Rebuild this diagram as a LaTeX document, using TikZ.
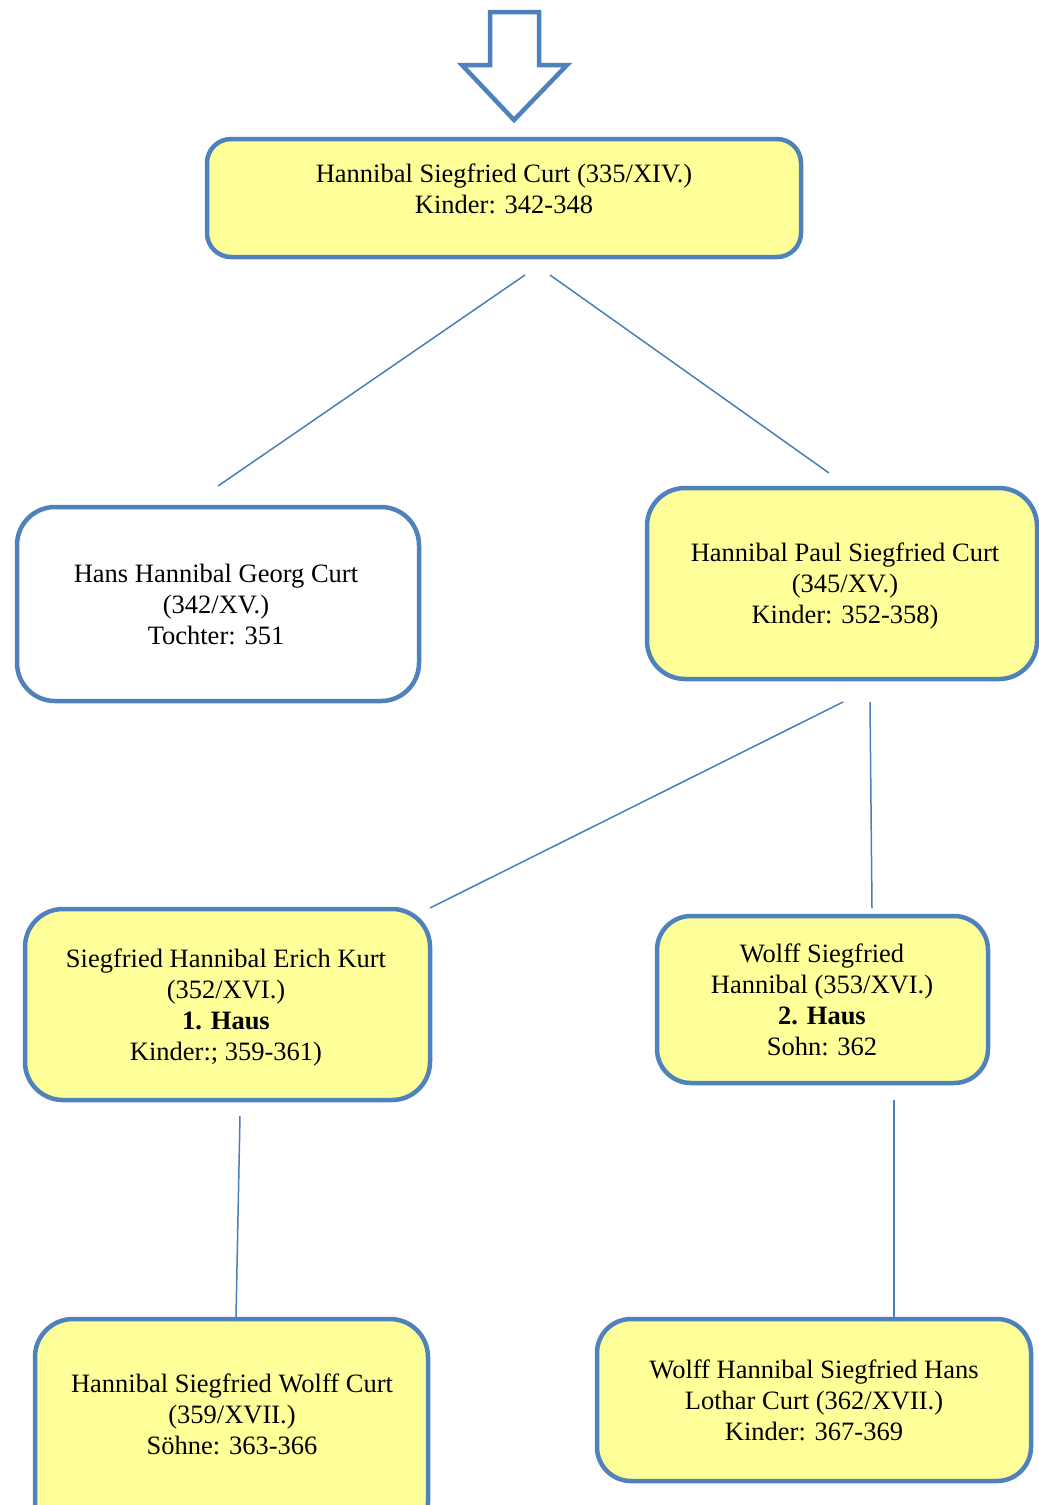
\documentclass[tikz,border=0pt]{standalone}
\usepackage{fontspec}
\setmainfont{Liberation Serif}
\begin{document}
\begin{tikzpicture}[x=1pt,y=-1pt,
  every node/.style={inner sep=0pt, outer sep=0pt},
  famtext/.style={align=center, font=\fontsize{26.5}{31}\selectfont, text=black},
  box/.style={draw=boxline, line width=4.5pt, rounded corners=#1, fill=boxfill},
  box/.default=38pt,
  link/.style={draw=linkblue, line width=1.5pt}]
\definecolor{boxline}{HTML}{4F81BD}
\definecolor{boxfill}{HTML}{FFFF99}
\definecolor{linkblue}{HTML}{4A7EBB}
\useasboundingbox (0,0) rectangle (1039,1505);
\clip (0,0) rectangle (1039,1505);

% entry arrow
\draw[boxline, line width=4.5pt, fill=white, miter limit=10]
  (490,12) -- (539,12) -- (539,65) -- (567,65) -- (514,120) -- (462,65) -- (490,65) -- cycle;

% boxes
\node[box=24pt, minimum width=594pt, minimum height=118pt] (root) at (504,198) {};
\node[famtext] (rootT) at (504,188.5) {Hannibal Siegfried Curt (335/XIV.)\\Kinder: 342-348};

\node[box, fill=white, minimum width=402pt, minimum height=194pt] (hans) at (218,604) {};
\node[famtext] (hansT) at (216,604) {Hans Hannibal Georg Curt\\(342/XV.)\\Tochter: 351};

\node[box, minimum width=390pt, minimum height=191pt] (paul) at (842,583.5) {};
\node[famtext] (paulT) at (845,586) {Hannibal Paul Siegfried Curt\\(345/XV.)\\Kinder: 352-358)};

\node[box, minimum width=405pt, minimum height=191pt] (erich) at (227.5,1004.5) {};
\node[famtext] (erichT) at (226,1007.5) {Siegfried Hannibal Erich Kurt\\(352/XVI.)\\\textbf{1. Haus}\\Kinder:; 359-361)};

\node[box=34pt, minimum width=331pt, minimum height=167pt] (wolff) at (822.5,999.5) {};
\node[famtext] (wolffT) at (822,999.5) {Wolff Siegfried\\Hannibal (353/XVI.)\\\textbf{2. Haus}\\Sohn: 362};

\node[box, minimum width=393pt, minimum height=221pt] (hsw) at (231.5,1429.5) {};
\node[famtext] (hswT) at (232,1414) {Hannibal Siegfried Wolff Curt\\(359/XVII.)\\Söhne: 363-366};

\node[box=34pt, minimum width=434pt, minimum height=162pt] (whl) at (814,1400) {};
\node[famtext] (whlT) at (814,1400) {Wolff Hannibal Siegfried Hans\\Lothar Curt (362/XVII.)\\Kinder: 367-369};

% connector ends
\coordinate (c1a) at (525,275);  \coordinate (c1b) at (218,486);
\coordinate (c2a) at (550,275);  \coordinate (c2b) at (829,473);
\coordinate (c3a) at (843,702);  \coordinate (c3b) at (430,908);
\coordinate (c4a) at (870,702);  \coordinate (c4b) at (872,908);
\coordinate (c5a) at (240,1116); \coordinate (c5b) at (236,1317);
\coordinate (c6a) at (894,1100); \coordinate (c6b) at (894,1317);

\draw[link] (c1a) -- (c1b);
\draw[link] (c2a) -- (c2b);
\draw[link] (c3a) -- (c3b);
\draw[link] (c4a) -- (c4b);
\draw[link] (c5a) -- (c5b);
\draw[link] (c6a) -- (c6b);
\end{tikzpicture}
\end{document}
